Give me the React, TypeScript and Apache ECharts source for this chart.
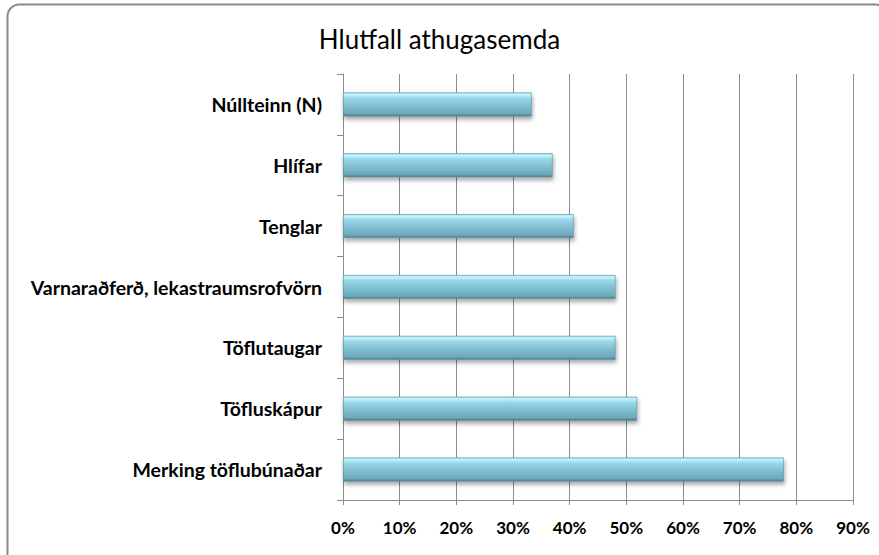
import React, { useEffect, useRef } from "react";
import * as echarts from "echarts";

const title = "Hlutfall athugasemda";
const categories = [
  "Núllteinn (N)",
  "Hlífar",
  "Tenglar",
  "Varnaraðferð, lekastraumsrofvörn",
  "Töflutaugar",
  "Töfluskápur",
  "Merking töflubúnaðar",
];
const values = [0.333, 0.370, 0.407, 0.481, 0.481, 0.519, 0.778];
const xMin = 0;
const xMax = 0.9;
const xStep = 0.1;

export default function App() {
  const ref = useRef<HTMLDivElement>(null);
  useEffect(() => {
    if (!ref.current) return;
    const chart = echarts.init(ref.current, null, { renderer: "svg" });
    const font = "Lato";
    chart.setOption({
      animation: false,
      backgroundColor: "#ffffff",
      graphic: [
        {
          type: "rect",
          shape: { x: 7.5, y: 4.5, width: 880, height: 570, r: 12 },
          style: { fill: "none", stroke: "#8a8a8a", lineWidth: 2 },
          z: 0,
        },
      ],
      title: {
        text: title,
        left: "center",
        top: 21,
        textStyle: { fontFamily: font, fontSize: 26, fontWeight: "normal", color: "#000" },
      },
      grid: { left: 343, right: 26, top: 74, bottom: 55, containLabel: false },
      xAxis: {
        type: "value",
        min: xMin,
        max: xMax,
        interval: xStep,
        axisLine: { show: true, lineStyle: { color: "#8c8c8c", width: 1 } },
        axisTick: { show: true, length: 5, lineStyle: { color: "#8c8c8c" } },
        splitLine: { show: true, lineStyle: { color: "#8c8c8c", width: 1 } },
        axisLabel: {
          margin: 19,
          fontFamily: font,
          fontSize: 17,
          fontWeight: "bold",
          color: "#000",
          formatter: (v: number) => Math.round(v * 100) + "%",
        },
      },
      yAxis: {
        type: "category",
        data: categories,
        inverse: true,
        axisLine: { show: true, lineStyle: { color: "#8c8c8c", width: 1 } },
        axisTick: { show: true, length: 6, lineStyle: { color: "#8c8c8c" } },
        axisLabel: {
          margin: 21,
          fontFamily: font,
          fontSize: 19.5,
          fontWeight: "bold",
          color: "#000",
        },
      },
      series: [
        {
          type: "bar",
          data: values,
          barWidth: 24,
          itemStyle: {
            color: new echarts.graphic.LinearGradient(0, 0, 0, 1, [
              { offset: 0, color: "#9fdcec" },
              { offset: 0.08, color: "#c6f4fc" },
              { offset: 0.22, color: "#9ad9ea" },
              { offset: 0.55, color: "#80bfd2" },
              { offset: 0.88, color: "#6ea8bb" },
              { offset: 1, color: "#4d7c8b" },
            ]),
            borderColor: "#5e8f9e",
            borderWidth: 0.6,
            shadowColor: "rgba(0,0,0,0.35)",
            shadowBlur: 4,
            shadowOffsetY: 3,
            shadowOffsetX: 1,
          },
        },
      ],
    });
    return () => chart.dispose();
  }, []);
  return (
    <div
      ref={ref}
      style={{ position: "fixed", left: 0, top: 0, width: 879, height: 555 }}
    />
  );
}
